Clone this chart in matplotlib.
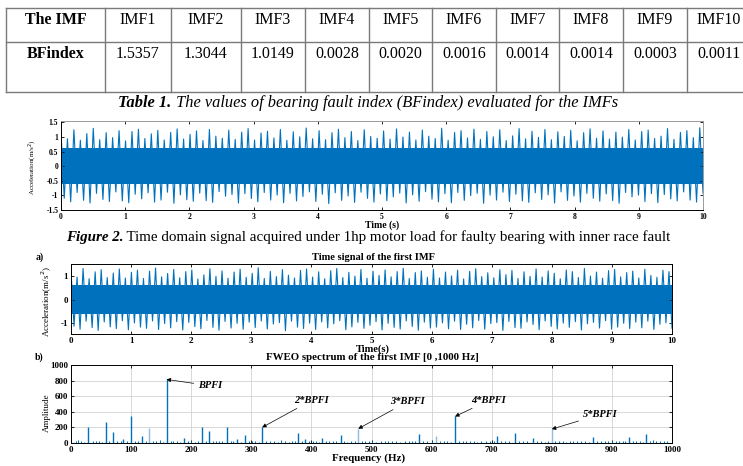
import numpy as np
import matplotlib
matplotlib.use('Agg')
import matplotlib.pyplot as plt

plt.rcParams['font.family'] = 'Liberation Serif'
plt.rcParams['axes.unicode_minus'] = False

W, H = 743, 466
BLUE = '#0072BD'
LIGHT = '#8fbbe0'

# ---- table 1 data ----
imf_names = ['IMF1', 'IMF2', 'IMF3', 'IMF4', 'IMF5',
             'IMF6', 'IMF7', 'IMF8', 'IMF9', 'IMF10']
bf_index = ['1.5357', '1.3044', '1.0149', '0.0028', '0.0020',
            '0.0016', '0.0014', '0.0014', '0.0003', '0.0011']

# ---- figure 2: raw signal, peak magnitudes (hundredths of m/s^2) ----
raw_hi = [118, 94, 125, 89, 112, 130, 91, 115, 98, 122,
          87, 119, 127, 95, 111, 123, 90, 116, 128, 93,
          109, 121, 88, 126, 103, 96, 124, 92, 117, 129,
          90, 114, 120, 97, 126, 89, 118, 101, 131, 94,
          122, 91, 115, 127, 98, 119, 88, 125, 102, 96,
          121, 93, 128, 100, 117, 90, 124, 103, 95, 130,
          89, 116, 122, 97, 127, 92, 119, 101, 125, 88,
          104, 129, 94, 120, 99, 126, 91, 118, 102, 123,
          87, 115, 128, 96, 121, 93, 117, 100, 126, 90,
          119, 124, 95, 103, 129, 92, 116, 122, 98, 132]
raw_lo = [110, 122, 90, 117, 126, 93, 114, 121, 88, 119,
          125, 96, 112, 91, 123, 116, 89, 127, 98, 115,
          120, 92, 118, 124, 87, 103, 97, 126, 94, 111,
          122, 90, 116, 99, 125, 93, 119, 104, 88, 121,
          96, 128, 91, 117, 102, 124, 89, 110, 123, 95,
          118, 105, 92, 126, 98, 120, 87, 113, 122, 94,
          125, 90, 117, 101, 93, 127, 99, 116, 89, 121,
          96, 119, 124, 91, 114, 98, 126, 88, 117, 102,
          123, 93, 110, 120, 95, 118, 127, 90, 105, 99,
          121, 94, 125, 97, 112, 119, 88, 116, 123, 92]
raw_core = 0.62

# ---- figure 3a: first IMF, peak magnitudes (hundredths) ----
imf_hi = [122, 95, 131, 88, 117, 126, 93, 112, 129, 91,
          115, 124, 89, 120, 133, 96, 110, 127, 92, 118,
          125, 87, 104, 130, 98, 121, 90, 116, 128, 94,
          111, 134, 89, 119, 97, 126, 103, 91, 123, 129,
          95, 117, 88, 122, 131, 93, 115, 99, 127, 90,
          120, 102, 125, 96, 118, 132, 89, 114, 121, 94,
          128, 91, 116, 100, 124, 87, 119, 130, 97, 113,
          92, 126, 105, 123, 89, 117, 98, 129, 95, 121,
          111, 88, 125, 118, 93, 131, 99, 116, 90, 122,
          127, 96, 114, 120, 91, 128, 102, 94, 124, 118]
imf_lo = [112, 125, 91, 118, 130, 94, 115, 122, 89, 127,
          98, 116, 121, 90, 126, 101, 119, 93, 128, 96,
          114, 123, 88, 117, 129, 92, 120, 100, 125, 95,
          118, 90, 124, 103, 97, 131, 91, 116, 122, 99,
          126, 94, 119, 102, 89, 127, 115, 96, 121, 108,
          93, 128, 100, 117, 124, 90, 113, 129, 95, 120,
          116, 98, 123, 91, 126, 104, 119, 88, 125, 101,
          97, 130, 92, 118, 121, 94, 105, 127, 90, 113,
          124, 99, 117, 93, 128, 102, 96, 120, 89, 125,
          116, 100, 122, 95, 119, 91, 126, 104, 98, 121]
imf_core = 0.6

# ---- figure 3b: FWEO spectrum ----
major_f = [29, 59, 70, 87, 100, 118, 159, 188, 218, 230, 260, 277, 290, 318,
           378, 389, 418, 449, 579, 639, 709, 738, 768, 869, 928, 957]
major_a = [205, 268, 145, 55, 350, 85, 815, 60, 205, 157, 200, 45, 100, 200,
           128, 50, 60, 98, 118, 340, 85, 128, 64, 72, 72, 110]
light_f = [130, 478, 608, 800]
light_a = [190, 183, 84, 178]
minor_f = [8, 12, 16, 22, 36, 41, 46, 52, 64, 76,
           83, 93, 107, 112, 124, 136, 142, 148, 153, 166,
           170, 176, 182, 195, 200, 206, 212, 224, 236, 241,
           246, 252, 266, 270, 283, 296, 301, 306, 312, 325,
           331, 338, 345, 350, 356, 362, 368, 372, 384, 396,
           402, 408, 412, 424, 430, 436, 441, 455, 460, 466,
           472, 484, 490, 496, 500, 508, 515, 522, 528, 534,
           540, 548, 556, 562, 568, 573, 586, 593, 600, 614,
           620, 626, 632, 646, 652, 658, 664, 670, 676, 682,
           690, 698, 703, 716, 722, 728, 745, 752, 758, 775,
           782, 788, 794, 806, 812, 818, 824, 830, 836, 842,
           848, 855, 862, 876, 882, 888, 894, 900, 906, 912,
           918, 922, 935, 940, 946, 951, 964, 968, 974, 980,
           986, 992]
minor_a = [20, 35, 30, 15, 25, 30, 25, 15, 20, 25,
           30, 20, 25, 30, 25, 20, 30, 35, 15, 20,
           30, 20, 15, 20, 25, 15, 20, 25, 20, 30,
           25, 20, 20, 25, 15, 20, 30, 25, 15, 30,
           30, 20, 15, 35, 20, 15, 25, 30, 20, 25,
           20, 25, 15, 30, 25, 20, 30, 20, 15, 25,
           20, 25, 30, 20, 30, 15, 25, 20, 30, 20,
           25, 15, 20, 30, 25, 20, 25, 30, 30, 25,
           20, 30, 15, 25, 20, 30, 20, 25, 15, 20,
           25, 30, 20, 25, 20, 30, 25, 20, 30, 25,
           20, 15, 25, 30, 20, 25, 15, 30, 20, 25,
           30, 20, 15, 25, 30, 20, 25, 30, 20, 25,
           20, 30, 25, 20, 30, 15, 20, 35, 25, 20,
           25, 30]
harm_labels = ['BPFI', '2*BPFI', '3*BPFI', '4*BPFI', '5*BPFI']
harm_tip = [(159, 815), (318, 200), (478, 183), (639, 340), (800, 178)]
harm_text = [(231, 735), (400, 545), (560, 530), (695, 545), (880, 365)]


def px_axes(left, top, right, bottom):
    return fig.add_axes([left / W, 1 - bottom / H, (right - left) / W, (bottom - top) / H])


def zigzag(hi, lo):
    vals = np.empty(2 * len(hi))
    vals[0::2] = np.array(hi) / 100.0
    vals[1::2] = -np.array(lo) / 100.0
    return np.linspace(0, 10, len(vals)), vals


def matlab_style(ax, size, edge='k'):
    ax.tick_params(direction='in', top=True, right=True, length=2.5, width=0.6,
                   labelsize=size, pad=2)
    for lbl in ax.get_xticklabels() + ax.get_yticklabels():
        lbl.set_fontweight('bold')
    for s in ax.spines.values():
        s.set_linewidth(0.7)
        s.set_color(edge)


def caption(y, parts, size, xc):
    r = fig.canvas.get_renderer()
    objs = [ov.text(0, y, s, fontsize=size, va='center', ha='left', **kw) for s, kw in parts]
    widths = [t.get_window_extent(r).width for t in objs]
    x = xc - sum(widths) / 2
    for t, w in zip(objs, widths):
        t.set_x(x)
        x += w


fig = plt.figure(figsize=(W / 100, H / 100), dpi=100)
ov = fig.add_axes([0, 0, 1, 1])
ov.set_xlim(0, W)
ov.set_ylim(H, 0)
ov.axis('off')

# table 1
col_edges = [6, 105, 171, 241, 305, 369, 432, 496, 559, 623, 687, 751]
for y in (7.5, 42, 92):
    ov.plot([6, W], [y, y], color='#7a7a7a', lw=1.0)
for x in col_edges[:-1]:
    ov.plot([x, x], [7.5, 92], color='#7a7a7a', lw=1.0)
cx = [(a + b) / 2 for a, b in zip(col_edges[:-1], col_edges[1:])]
ov.text(cx[0], 20, 'The IMF', fontsize=11.5, weight='bold', ha='center', va='center')
ov.text(cx[0], 54, 'BFindex', fontsize=11.5, weight='bold', ha='center', va='center')
for i in range(len(imf_names)):
    ov.text(cx[i + 1], 20, imf_names[i], fontsize=11.5, ha='center', va='center')
    ov.text(cx[i + 1], 54, bf_index[i], fontsize=11.5, ha='center', va='center')

caption(103, [('Table 1.', dict(weight='bold', style='italic')),
              (' The values of bearing fault index (BFindex) evaluated for the IMFs',
               dict(style='italic'))], 11.8, 368)
caption(237.5, [('Figure 2.', dict(weight='bold', style='italic')),
                (' Time domain signal acquired under 1hp motor load for faulty bearing with inner race fault',
                 dict())], 10.8, 368)

# figure 2 - raw signal
ax0 = px_axes(61, 121, 703, 210)
t0, s0 = zigzag(raw_hi, raw_lo)
ax0.fill_between([0, 10], -raw_core, raw_core, color=BLUE, lw=0)
ax0.plot(t0, s0, color=BLUE, lw=0.8)
ax0.set_xlim(0, 10)
ax0.set_ylim(-1.5, 1.55)
ax0.set_xticks(range(11))
ax0.set_yticks([-1.5, -1, -0.5, 0, 0.5, 1, 1.5])
ax0.set_yticklabels(['-1.5', '-1', '-0.5', '0', '0.5', '1', '1.5'])
matlab_style(ax0, 5.5)
ax0.spines['top'].set_color('#9a9a9a')
ax0.spines['right'].set_color('#9a9a9a')
fig.text(382 / W, 1 - 225.5 / H, 'Time (s)', fontsize=7, weight='bold', ha='center', va='center')
fig.text(33 / W, 1 - 167 / H, 'Acceleration(m/s$^2$)', fontsize=5, rotation=90,
         ha='center', va='center')

# figure 3a - first IMF
ax1 = px_axes(71, 264, 672, 334)
t1, s1 = zigzag(imf_hi, imf_lo)
ax1.fill_between([0, 10], -imf_core, imf_core, color=BLUE, lw=0)
ax1.plot(t1, s1, color=BLUE, lw=0.8)
ax1.set_xlim(0, 10)
ax1.set_ylim(-1.45, 1.5)
ax1.set_xticks(range(11))
ax1.set_yticks([-1, 0, 1])
matlab_style(ax1, 6.5)
fig.text(373 / W, 1 - 257 / H, 'Time signal of the first IMF', fontsize=7.5, weight='bold',
         ha='center', va='center')
fig.text(40 / W, 1 - 257 / H, 'a)', fontsize=7, weight='bold', ha='center', va='center')
fig.text(373 / W, 1 - 349.5 / H, 'Time(s)', fontsize=7.5, weight='bold', ha='center', va='center')
fig.text(47 / W, 1 - 302 / H, 'Acceleration(m/s$^2$)', fontsize=6.5, rotation=90,
         ha='center', va='center')

# figure 3b - FWEO spectrum
ax2 = px_axes(71, 365, 672, 443)
ax2.grid(True, color='#d2d2d2', lw=0.6)
ax2.set_axisbelow(True)
ax2.vlines(minor_f, 0, minor_a, color=BLUE, lw=0.7)
ax2.vlines(light_f, 0, light_a, color=LIGHT, lw=1.0)
ax2.vlines(major_f, 0, major_a, color=BLUE, lw=1.0)
ax2.plot([0, 1000], [4, 4], color=BLUE, lw=0.8)
ax2.set_xlim(0, 1000)
ax2.set_ylim(0, 1000)
ax2.set_xticks(range(0, 1001, 100))
ax2.set_yticks(range(0, 1001, 200))
matlab_style(ax2, 6.5)
for lab, tip, txt in zip(harm_labels, harm_tip, harm_text):
    ax2.annotate(lab, xy=tip, xytext=txt, fontsize=7.5, weight='bold', style='italic',
                 ha='center', va='center',
                 arrowprops=dict(arrowstyle='-|>', color='k', lw=0.5, mutation_scale=6,
                                 shrinkA=1, shrinkB=0))
fig.text(372 / W, 1 - 358 / H, 'FWEO spectrum of the first IMF [0 ,1000 Hz]', fontsize=7.8,
         weight='bold', ha='center', va='center')
fig.text(39 / W, 1 - 357 / H, 'b)', fontsize=7, weight='bold', ha='center', va='center')
fig.text(369 / W, 1 - 458 / H, 'Frequency (Hz)', fontsize=7.8, weight='bold', ha='center', va='center')
fig.text(47 / W, 1 - 413 / H, 'Amplitude', fontsize=6.5, rotation=90, ha='center', va='center')

fig.savefig('out.png', dpi=100)
